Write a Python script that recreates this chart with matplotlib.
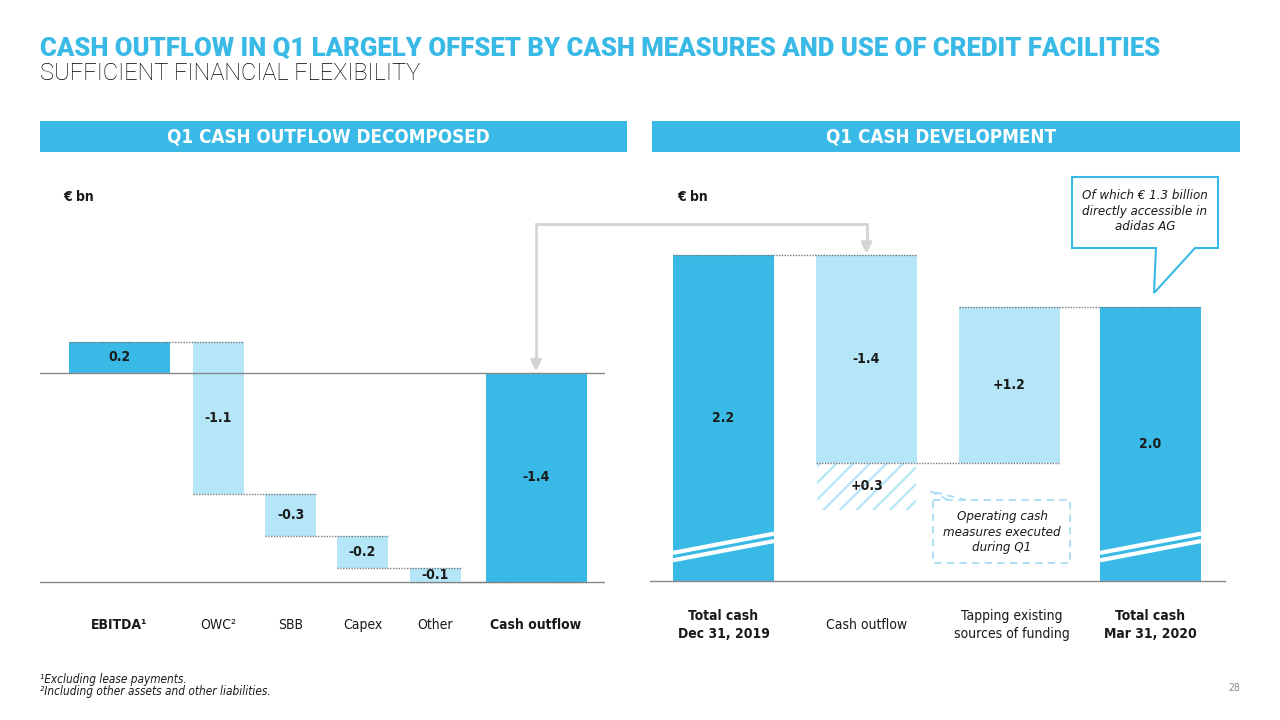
import matplotlib.pyplot as plt
from matplotlib.patches import Polygon, Rectangle
import numpy as np

# Colours
BLUE = '#39B9E5'
LIGHT = '#B5E6F8'
TXT = '#1a1a1a'
GREY = '#7a7a7a'
ARROW = '#d4d4d4'

BODY = dict(family='DejaVu Sans', fontstretch='condensed')

# ---- data: left panel (Q1 cash outflow decomposed, EUR bn) ----
left_cats = ['EBITDA¹', 'OWC²', 'SBB', 'Capex', 'Other', 'Cash outflow']
left_steps = [0.21, -1.03, -0.28, -0.22, -0.09]          # bar heights as drawn
left_labels = ['0.2', '-1.1', '-0.3', '-0.2', '-0.1', '-1.4']

# ---- data: right panel (Q1 cash development, EUR bn) ----
right_cats = ['Total cash\nDec 31, 2019', 'Cash outflow',
              'Tapping existing\nsources of funding', 'Total cash\nMar 31, 2020']
total_dec = 2.20
cash_outflow = -1.40
cash_measures = 0.32
tapping = 1.05
right_labels = ['2.2', '-1.4', '+1.2', '2.0']
measures_label = '+0.3'

# ---- layout helpers (figure pixels, y from top) ----
W, H = 1280, 720
PXU = 148.0  # pixels per EUR bn


def rect(x0, x1, y0, y1):
    return [x0 / W, 1 - y1 / H, (x1 - x0) / W, (y1 - y0) / H]


fig = plt.figure(figsize=(12.8, 7.2), dpi=100)
fig.patch.set_facecolor('white')

# ---------------- left waterfall ----------------
axl = fig.add_axes(rect(40, 605, 160, 600))
lx = [119.5, 218.5, 290.5, 362.5, 435, 536]
lw_ = [101, 51, 51, 51, 51, 101]
axl.set_xlim(40, 605)
axl.set_ylim(-(600 - 373) / PXU, (373 - 160) / PXU)
axl.axis('off')

cum = np.concatenate([[0], np.cumsum(left_steps)])
total_left = cum[-1]
for i, step in enumerate(left_steps):
    lo, hi = sorted([cum[i], cum[i + 1]])
    axl.bar(lx[i], hi - lo, bottom=lo, width=lw_[i],
            color=BLUE if i == 0 else LIGHT, linewidth=0, zorder=2)
    axl.text(lx[i], (lo + hi) / 2, left_labels[i], ha='center', va='center',
             fontsize=10, fontweight='bold', color=TXT, zorder=4, **BODY)
axl.bar(lx[-1], -total_left, bottom=total_left, width=lw_[-1], color=BLUE,
        linewidth=0, zorder=2)
axl.text(lx[-1], total_left / 2, left_labels[-1], ha='center', va='center',
         fontsize=10, fontweight='bold', color=TXT, zorder=4, **BODY)

# dotted connectors
for i in range(len(left_steps)):
    x0 = lx[i] - lw_[i] / 2
    x1 = lx[i + 1] + lw_[i + 1] / 2
    axl.plot([x0, x1], [cum[i + 1]] * 2, color=GREY, lw=1, ls=(0, (1, 1)), zorder=3)
axl.plot([40, 605], [0, 0], color='#888888', lw=1, zorder=3)
axl.plot([40, 605], [total_left] * 2, color='#888888', lw=1, zorder=1)

# ---------------- right waterfall ----------------
axr = fig.add_axes(rect(650, 1240, 160, 600))
rx = [723.5, 866.5, 1009, 1150.5]
rw = 101
axr.set_xlim(650, 1240)
axr.set_ylim(-(600 - 581) / PXU, (581 - 160) / PXU)
axr.axis('off')

after_out = total_dec + cash_outflow
total_mar = after_out + tapping
axr.bar(rx[0], total_dec, width=rw, color=BLUE, linewidth=0, zorder=2)
axr.bar(rx[1], -cash_outflow, bottom=after_out, width=rw, color=LIGHT, linewidth=0, zorder=2)
plt.rcParams['hatch.linewidth'] = 1.6
axr.bar(rx[1], cash_measures, bottom=after_out - cash_measures, width=rw - 2,
        color='white', edgecolor=LIGHT, hatch='//', linewidth=0, zorder=2)
axr.bar(rx[2], tapping, bottom=after_out, width=rw, color=LIGHT, linewidth=0, zorder=2)
axr.bar(rx[3], total_mar, width=rw, color=BLUE, linewidth=0, zorder=2)

for x, y, s in [(rx[0], total_dec / 2, right_labels[0]),
                (rx[1], after_out - cash_outflow / 2, right_labels[1]),
                (rx[2], after_out + tapping / 2, right_labels[2]),
                (rx[3], total_mar / 2, right_labels[3]),
                (rx[1], after_out - cash_measures / 2, measures_label)]:
    axr.text(x, y, s, ha='center', va='center', fontsize=10, fontweight='bold',
             color=TXT, zorder=4, **BODY)

# axis-break marks on the total bars
for x in (rx[0], rx[3]):
    for yl, yr in [(0.19, 0.32), (0.14, 0.27)]:
        axr.plot([x - rw / 2, x + rw / 2], [yl, yr], color='white', lw=3,
                 solid_capstyle='butt', zorder=3)

# dotted connectors
levels = [total_dec, after_out, total_mar]
for i, lev in enumerate(levels):
    axr.plot([rx[i] - rw / 2, rx[i + 1] + rw / 2], [lev, lev], color=GREY, lw=1,
             ls=(0, (1, 1)), zorder=3)
axr.plot([650, 1225], [0, 0], color='#888888', lw=1, zorder=3)

# ---------------- overlay for annotations ----------------
ov = fig.add_axes([0, 0, 1, 1], zorder=5)
ov.set_xlim(0, W)
ov.set_ylim(H, 0)
ov.axis('off')
ov.patch.set_alpha(0)


def to_px(ax, x, y):
    dx, dy = ax.transData.transform((x, y))
    return dx, H - dy


# connector arrow from left total to right outflow bar
ax1, ay1 = to_px(axl, lx[-1], 0)
ax2, ay2 = to_px(axr, rx[1], total_dec)
ov.plot([ax1, ax1, ax2, ax2], [ay1 - 14, 224, 224, ay2 - 14], color=ARROW, lw=2,
        solid_joinstyle='miter')
for xx, yy in [(ax1, ay1), (ax2, ay2)]:
    ov.annotate('', xy=(xx, yy + 1), xytext=(xx, yy - 16),
                arrowprops=dict(arrowstyle='-|>', color=ARROW, lw=2, mutation_scale=16))

# speech-bubble callout
bubble = Polygon([(1072, 177), (1218, 177), (1218, 248), (1195, 248), (1154, 293),
                  (1156, 248), (1072, 248)], closed=True, facecolor='white',
                 edgecolor=BLUE, lw=1.5)
ov.add_patch(bubble)
ov.text(1145, 211, 'Of which € 1.3 billion\ndirectly accessible in\nadidas AG', ha='center',
        va='center', fontsize=9.5, style='italic', color=TXT, linespacing=1.25, **BODY)

# dashed callout
ov.add_patch(Rectangle((933, 500), 137, 63, facecolor='white', edgecolor='#a8dcf2',
                       lw=1.3, ls=(0, (4, 3))))
ov.plot([948, 930, 966], [500, 491, 500], color='#a8dcf2', lw=1.3, ls=(0, (4, 3)))
ov.text(1002, 532, 'Operating cash\nmeasures executed\nduring Q1', ha='center', va='center',
        fontsize=9.5, style='italic', color=TXT, linespacing=1.25, **BODY)

# header bands
for x0, x1, label in [(40, 627, 'Q1 CASH OUTFLOW DECOMPOSED'),
                      (652, 1240, 'Q1 CASH DEVELOPMENT')]:
    ov.add_patch(Rectangle((x0, 121), x1 - x0, 31, facecolor=BLUE, edgecolor='none'))
    ov.text((x0 + x1) / 2 - 5, 137, label, ha='center', va='center', color='white',
            fontsize=13.5, fontweight='bold', **BODY)

# titles
ov.text(40, 49, 'CASH OUTFLOW IN Q1 LARGELY OFFSET BY CASH MEASURES AND USE OF CREDIT FACILITIES',
        ha='left', va='center', fontsize=18.5, fontweight='black', color=BLUE,
        family='Roboto')
ov.text(40, 74, 'SUFFICIENT FINANCIAL FLEXIBILITY', ha='left', va='center',
        fontsize=17, fontweight='light', color='#000000', family='Roboto')

# unit labels
ov.text(63, 197, '€ bn', ha='left', va='center', fontsize=10, fontweight='bold',
        color=TXT, **BODY)
ov.text(677, 197, '€ bn', ha='left', va='center', fontsize=10, fontweight='bold',
        color=TXT, **BODY)

# category labels
bold_left = [True, False, False, False, False, True]
for i, c in enumerate(left_cats):
    px, _ = to_px(axl, lx[i], 0)
    ov.text(px, 625, c, ha='center', va='center', fontsize=10,
            fontweight='bold' if bold_left[i] else 'normal', color=TXT, **BODY)
bold_right = [True, False, False, True]
for i, c in enumerate(right_cats):
    px, _ = to_px(axr, rx[i], 0)
    ov.text(px + (3 if i == 2 else 0), 625, c, ha='center', va='center', fontsize=10,
            fontweight='bold' if bold_right[i] else 'normal', color=TXT,
            linespacing=1.45, **BODY)

# footnotes
ov.text(40, 680, '¹Excluding lease payments.', ha='left', va='center', fontsize=8.5,
        style='italic', color=TXT, **BODY)
ov.text(40, 691, '²Including other assets and other liabilities.', ha='left',
        va='center', fontsize=8.5, style='italic', color=TXT, **BODY)
ov.text(1240, 688, '28', ha='right', va='center', fontsize=7.5, color='#888888', **BODY)

fig.savefig('out.png', dpi=100)
